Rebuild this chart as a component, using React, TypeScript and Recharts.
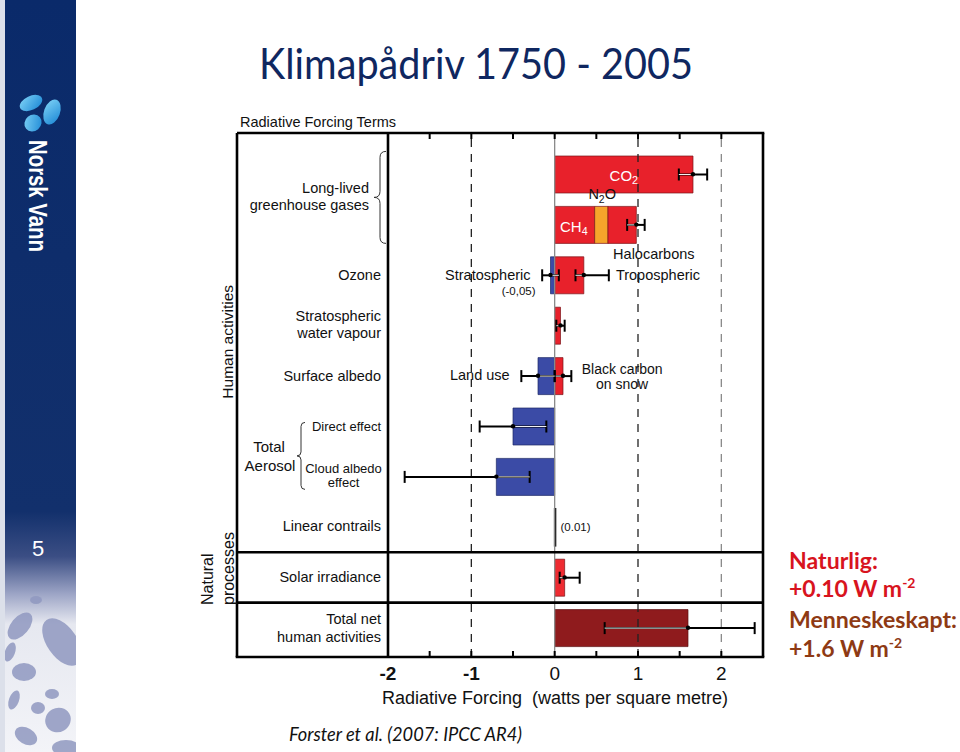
import React from 'react';
import {
  ComposedChart,
  Bar,
  Line,
  XAxis,
  YAxis,
  ReferenceLine,
  ReferenceDot,
  ErrorBar,
  Cell,
} from 'recharts';

// ---------------- data ----------------
const rowNames = [
  'CO2',
  'CH4 N2O Halocarbons',
  'Ozone',
  'Stratospheric water vapour',
  'Surface albedo',
  'Direct effect',
  'Cloud albedo effect',
  'Linear contrails',
  'Solar irradiance',
  'Total net human activities',
];
const redValues = [1.66, 0.48, 0.35, 0.07, 0.1, 0, 0, 0.01, 0.12, 0];
const n2oValues = [0, 0.16, 0, 0, 0, 0, 0, 0, 0, 0];
const haloValues = [0, 0.34, 0, 0, 0, 0, 0, 0, 0, 0];
const blueValues = [0, 0, -0.05, 0, -0.2, -0.5, -0.7, 0, 0, 0];
const netValues = [0, 0, 0, 0, 0, 0, 0, 0, 0, 1.6];

type Range = [number, number] | null;
const redErr: Range[] = [[1.49, 1.83], null, [0.25, 0.65], [0.02, 0.12], [0.0, 0.2], null, null, null, [0.06, 0.3], null];
const haloErr: Range[] = [null, [0.87, 1.08], null, null, null, null, null, null, null, null];
const blueErr: Range[] = [null, null, [-0.15, 0.05], null, [-0.4, 0.0], [-0.9, -0.1], [-1.8, -0.3], null, null, null];
const netErr: Range[] = [null, null, null, null, null, null, null, null, null, [0.6, 2.4]];

const xTicks = [-2, -1.5, -1, -0.5, 0, 0.5, 1, 1.5, 2, 2.5];

const rowLabels: string[][] = [
  ['Long-lived', 'greenhouse gases'],
  [],
  ['Ozone'],
  ['Stratospheric', 'water vapour'],
  ['Surface albedo'],
  ['Direct effect'],
  ['Cloud albedo', 'effect'],
  ['Linear contrails'],
  ['Solar irradiance'],
  ['Total net', 'human activities'],
];

const annotations = [
  { row: 0, x: 0.83, text: 'CO_2', fill: '#fff' },
  { row: 1, x: 0.57, text: 'N_2O', fill: '#111' },
  { row: 1, x: 0.23, text: 'CH_4', fill: '#fff' },
  { row: 1, x: 1.19, text: 'Halocarbons', fill: '#111' },
  { row: 2, x: -0.29, text: 'Stratospheric', fill: '#111' },
  { row: 2, x: -0.23, text: '(-0,05)', fill: '#111' },
  { row: 2, x: 0.735, text: 'Tropospheric', fill: '#111' },
  { row: 4, x: -0.54, text: 'Land use', fill: '#111' },
  { row: 4, x: 0.81, text: 'Black carbon', fill: '#111' },
  { row: 4, x: 0.81, text: 'on snow', fill: '#111' },
  { row: 7, x: 0.07, text: '(0.01)', fill: '#111' },
];

// ---------------- layout / style ----------------
const W = 960;
const H = 752;
const FRAME_LEFT = 237;
const PLOT_LEFT = 388;
const PLOT_RIGHT = 763;
const PLOT_TOP = 133;
const PLOT_BOTTOM = 657;
const PAD_TOP = 16;
const PAD_BOTTOM = 4;
const BAND = (PLOT_BOTTOM - PLOT_TOP - PAD_TOP - PAD_BOTTOM) / rowNames.length;
const rowY = (i: number) => PLOT_TOP + PAD_TOP + BAND * (i + 0.5);
const rowEdge = (i: number) => PLOT_TOP + PAD_TOP + BAND * i;

const FONT = '"Liberation Sans", Arial, Helvetica, sans-serif';
const LABEL_SIZE = 14.5;

const annotationStyle: { anchor: 'start' | 'middle' | 'end'; dy: number; size: number }[] = [
  { anchor: 'middle', dy: 1, size: 15 },
  { anchor: 'middle', dy: -31, size: 14.5 },
  { anchor: 'middle', dy: 1, size: 15 },
  { anchor: 'middle', dy: 29, size: 14.5 },
  { anchor: 'end', dy: 0, size: 14.5 },
  { anchor: 'end', dy: 16, size: 11.5 },
  { anchor: 'start', dy: 0, size: 14.5 },
  { anchor: 'end', dy: -1, size: 14.5 },
  { anchor: 'middle', dy: -6.5, size: 14 },
  { anchor: 'middle', dy: 7.8, size: 14 },
  { anchor: 'start', dy: 0, size: 11.5 },
];

const rowLabelStyle = [
  { dx: -12, dy: BAND / 2 - 3, gap: 17, size: LABEL_SIZE, anchor: 'end' },
  { dx: 0, dy: 0, gap: 0, size: LABEL_SIZE, anchor: 'end' },
  { dx: 0, dy: 0, gap: 0, size: LABEL_SIZE, anchor: 'end' },
  { dx: 0, dy: -1, gap: 17.5, size: LABEL_SIZE, anchor: 'end' },
  { dx: 0, dy: 0, gap: 0, size: LABEL_SIZE, anchor: 'end' },
  { dx: 0, dy: 0, gap: 0, size: 13, anchor: 'end' },
  { dx: -37.5, dy: -1, gap: 14.5, size: 13, anchor: 'middle' },
  { dx: 0, dy: -1, gap: 0, size: LABEL_SIZE, anchor: 'end' },
  { dx: 0, dy: 0, gap: 0, size: LABEL_SIZE, anchor: 'end' },
  { dx: 0, dy: 0, gap: 18, size: LABEL_SIZE, anchor: 'end' },
];

const RED = '#E8212B';
const ORANGE = '#F6A52B';
const BLUE = '#3B4BA6';
const DARKRED = '#8F1B1D';

// ---------------- data table ----------------
const errDelta = (v: number, r: Range) => (r ? [+(v - r[0]).toFixed(3), +(r[1] - v).toFixed(3)] : undefined);

const data = rowNames.map((name, i) => {
  const rowMin = blueValues[i];
  const rowMax = redValues[i] + n2oValues[i] + haloValues[i] + netValues[i];
  const inner = (v: number, r: Range) => {
    if (!r) return undefined;
    const lo = Math.max(r[0], rowMin);
    const hi = Math.min(r[1], rowMax);
    if (hi <= lo) return undefined;
    return [+(v - lo).toFixed(3), +(hi - v).toFixed(3)];
  };
  const haloTop = redValues[i] + n2oValues[i] + haloValues[i];
  let dotPos: number | null = null;
  if (redErr[i]) dotPos = redValues[i];
  else if (haloErr[i]) dotPos = haloTop;
  else if (netErr[i]) dotPos = netValues[i];
  return {
    name,
    red: redValues[i],
    n2o: n2oValues[i],
    halo: haloValues[i],
    blue: blueValues[i],
    net: netValues[i],
    redErr: errDelta(redValues[i], redErr[i]),
    redIn: inner(redValues[i], redErr[i]),
    haloErr: errDelta(haloTop, haloErr[i]),
    haloIn: inner(haloTop, haloErr[i]),
    blueErr: errDelta(blueValues[i], blueErr[i]),
    blueIn: inner(blueValues[i], blueErr[i]),
    netErr: errDelta(netValues[i], netErr[i]),
    netIn: inner(netValues[i], netErr[i]),
    dotPos,
    dotNeg: blueErr[i] ? blueValues[i] : null,
  };
});

// ---------------- helpers ----------------
const renderRich = (text: string, size: number) => {
  const parts = text.split(/_(\d)/);
  const out: React.ReactNode[] = [];
  let shifted = false;
  parts.forEach((p, k) => {
    if (p === '') return;
    if (k % 2 === 1) {
      out.push(
        <tspan key={k} dy={5} fontSize={size * 0.72}>
          {p}
        </tspan>
      );
      shifted = true;
    } else {
      out.push(
        <tspan key={k} dy={shifted ? -5 : 0}>
          {p}
        </tspan>
      );
      shifted = false;
    }
  });
  return out;
};

const RowTick = (props: any) => {
  const { x, y, payload } = props;
  const i = rowNames.indexOf(payload.value);
  if (i < 0) return null;
  const lines = rowLabels[i];
  const st = rowLabelStyle[i];
  return (
    <g>
      {lines.map((l, k) => (
        <text
          key={k}
          x={x + st.dx}
          y={y + st.dy + k * st.gap - ((lines.length - 1) * st.gap) / 2}
          textAnchor={st.anchor as any}
          dominantBaseline="central"
          fontSize={st.size}
          fontFamily={FONT}
          fill="#111"
        >
          {l}
        </text>
      ))}
    </g>
  );
};

const BottomTick = (props: any) => {
  const { x, y, payload } = props;
  const v = payload.value as number;
  const inner = v > -2 && v < 2.5;
  return (
    <g>
      {inner && <line x1={x} x2={x} y1={y} y2={y - 6} stroke="#000" strokeWidth={2} />}
      {Number.isInteger(v) && (
        <text
          x={x}
          y={y + 23}
          textAnchor="middle"
          fontSize={19}
          fontWeight={v < 0 ? 'bold' : 'normal'}
          fontFamily={FONT}
          fill="#111"
        >
          {String(v)}
        </text>
      )}
    </g>
  );
};

const TopTick = (props: any) => {
  const { x, y, payload } = props;
  const v = payload.value as number;
  if (!(v > -2 && v < 2.5)) return null;
  return <line x1={x} x2={x} y1={y} y2={y + 6} stroke="#000" strokeWidth={2} />;
};

const brace = (x0: number, x1: number, yt: number, yb: number) => {
  const ym = (yt + yb) / 2;
  const q = (x1 - x0) / 2;
  const xm = x0 + q;
  return `M ${x1} ${yt} Q ${xm} ${yt} ${xm} ${yt + q} L ${xm} ${ym - q} Q ${xm} ${ym} ${x0} ${ym} Q ${xm} ${ym} ${xm} ${ym + q} L ${xm} ${yb - q} Q ${xm} ${yb} ${x1} ${yb}`;
};

const drops = [
  [20, 626, 9, 16, 40],
  [62, 642, 15, 27, -35],
  [10, 652, 5, 10, 20],
  [24, 672, 12, 9, 0],
  [52, 694, 7, 5, 0],
  [14, 700, 5, 10, 20],
  [38, 708, 7, 6, 0],
  [58, 720, 13, 12, -30],
  [26, 736, 12, 8, 30],
  [66, 748, 14, 8, 0],
  [36, 600, 6, 4, 0],
];

export default function App() {
  const frame = '#000';
  return (
    <div style={{ position: 'absolute', left: 0, top: 0, width: W, height: H, background: '#fff', overflow: 'hidden' }}>
      {/* background decorations */}
      <svg width={W} height={H} style={{ position: 'absolute', left: 0, top: 0 }}>
        <defs>
          <linearGradient id="band" x1="0" y1="0" x2="0" y2="1">
            <stop offset="0" stopColor="#0A2A6A" />
            <stop offset="0.68" stopColor="#12306C" />
            <stop offset="0.74" stopColor="#3B4E84" />
            <stop offset="0.79" stopColor="#9DA5C6" />
            <stop offset="0.83" stopColor="#E6E8F0" />
            <stop offset="1" stopColor="#F3F4F8" />
          </linearGradient>
          <linearGradient id="drop" x1="0" y1="0" x2="1" y2="1">
            <stop offset="0" stopColor="#7FD3F7" />
            <stop offset="1" stopColor="#1A86D4" />
          </linearGradient>
          <clipPath id="bandClip">
            <rect x={5} y={0} width={71} height={H} />
          </clipPath>
        </defs>
        <rect x={0} y={0} width={5} height={H} fill="#DCE0EA" />
        <rect x={5} y={0} width={71} height={H} fill="url(#band)" />
        <g clipPath="url(#bandClip)">
          {drops.map((d, k) => (
            <ellipse
              key={k}
              cx={d[0]}
              cy={d[1]}
              rx={d[2]}
              ry={d[3]}
              fill="#8F98C0"
              opacity={0.85}
              transform={`rotate(${d[4]} ${d[0]} ${d[1]})`}
            />
          ))}
        </g>
        {/* logo */}
        <ellipse cx={31} cy={103} rx={12} ry={7} fill="url(#drop)" transform="rotate(-25 31 103)" />
        <ellipse cx={52} cy={112} rx={8} ry={13} fill="url(#drop)" transform="rotate(20 52 112)" />
        <ellipse cx={33} cy={123} rx={9} ry={8} fill="url(#drop)" transform="rotate(-40 33 123)" />
        <text
          x={38}
          y={196}
          transform="rotate(90 38 196)"
          textAnchor="middle"
          dominantBaseline="central"
          fontFamily={FONT}
          fontWeight="bold"
          fontSize={25}
          fill="#fff"
          textLength={112}
          lengthAdjust="spacingAndGlyphs"
        >
          Norsk Vann
        </text>
        <text x={38} y={556} textAnchor="middle" fontFamily={FONT} fontSize={22} fill="#fff">
          5
        </text>
        {/* title */}
        <text
          x={259}
          y={79}
          fontFamily="Lato, 'Open Sans', sans-serif"
          fontSize={42}
          fill="#0F2760"
          textLength={434}
          lengthAdjust="spacingAndGlyphs"
        >
          Klimapådriv 1750 - 2005
        </text>
        <text x={240} y={127} fontFamily={FONT} fontSize={14.5} fill="#111">
          Radiative Forcing Terms
        </text>
        {/* right annotations */}
        <text x={789} y={569} fontFamily="Lato, sans-serif" fontWeight="bold" fontSize={23} fill="#D8141E" textLength={89} lengthAdjust="spacingAndGlyphs">
          Naturlig:
        </text>
        <text x={789} y={597} fontFamily="Lato, sans-serif" fontWeight="bold" fontSize={23} fill="#D8141E">
          +0.10 W m
          <tspan dy={-9} fontSize={14}>
            -2
          </tspan>
        </text>
        <text x={789} y={628} fontFamily="Lato, sans-serif" fontWeight="bold" fontSize={23} fill="#8E3A14" textLength={168} lengthAdjust="spacingAndGlyphs">
          Menneskeskapt:
        </text>
        <text x={789} y={657} fontFamily="Lato, sans-serif" fontWeight="bold" fontSize={23} fill="#8E3A14">
          +1.6 W m
          <tspan dy={-9} fontSize={14}>
            -2
          </tspan>
        </text>
        {/* footer */}
        <text
          x={289}
          y={741}
          fontFamily="Lato, sans-serif"
          fontStyle="italic"
          fontSize={19}
          fill="#111"
          textLength={233}
          lengthAdjust="spacingAndGlyphs"
        >
          Forster et al. (2007: IPCC AR4)
        </text>
      </svg>

      {/* chart */}
      <div style={{ position: 'absolute', left: 0, top: 0 }}>
        <ComposedChart
          width={W}
          height={H}
          data={data}
          layout="vertical"
          stackOffset="sign"
          margin={{ top: PLOT_TOP - 10, right: W - PLOT_RIGHT, bottom: H - PLOT_BOTTOM - 30, left: FRAME_LEFT }}
        >
          <XAxis
            type="number"
            domain={[-2, 2.5]}
            allowDataOverflow
            ticks={xTicks}
            interval={0}
            height={30}
            axisLine={false}
            tickLine={false}
            tickSize={0}
            tickMargin={0}
            tick={(p: any) => <BottomTick {...p} />}
          />
          <XAxis
            xAxisId="top"
            orientation="top"
            type="number"
            domain={[-2, 2.5]}
            allowDataOverflow
            ticks={xTicks}
            interval={0}
            height={10}
            axisLine={false}
            tickLine={false}
            tickSize={0}
            tickMargin={0}
            tick={(p: any) => <TopTick {...p} />}
          />
          <YAxis
            type="category"
            dataKey="name"
            width={PLOT_LEFT - FRAME_LEFT}
            interval={0}
            axisLine={false}
            tickLine={false}
            tickSize={0}
            tickMargin={7}
            padding={{ top: PAD_TOP, bottom: PAD_BOTTOM }}
            tick={(p: any) => <RowTick {...p} />}
          />
          <ReferenceLine x={-1} stroke="#222" strokeWidth={1.3} strokeDasharray="8 7" />
          <ReferenceLine x={1} stroke="#222" strokeWidth={1.3} strokeDasharray="8 7" />
          <ReferenceLine x={2} stroke="#8a8a8a" strokeWidth={1.3} strokeDasharray="8 7" />
          <ReferenceLine x={0} stroke="#8a8a8a" strokeWidth={1.3} />

          <Bar dataKey="red" stackId="a" barSize={37} fill={RED} stroke="#7A1418" strokeWidth={0.7} isAnimationActive={false}>
            {data.map((d, k) => (
              <Cell
                key={k}
                fill={d.name === 'Solar irradiance' ? '#EE2B31' : RED}
                stroke={d.name === 'Linear contrails' ? '#000' : '#7A1418'}
                strokeWidth={d.name === 'Linear contrails' ? 1.6 : 0.7}
              />
            ))}
            <ErrorBar dataKey="redErr" direction="x" width={6} stroke="#000" strokeWidth={2} />
            <ErrorBar dataKey="redIn" direction="x" width={0} stroke="#f2f2f2" strokeWidth={1} />
          </Bar>
          <Bar dataKey="n2o" stackId="a" barSize={37} fill={ORANGE} stroke="#7A1418" strokeWidth={0.7} isAnimationActive={false} />
          <Bar dataKey="halo" stackId="a" barSize={37} fill={RED} stroke="#7A1418" strokeWidth={0.7} isAnimationActive={false}>
            <ErrorBar dataKey="haloErr" direction="x" width={6} stroke="#000" strokeWidth={2} />
            <ErrorBar dataKey="haloIn" direction="x" width={0} stroke="#f2f2f2" strokeWidth={1} />
          </Bar>
          <Bar dataKey="blue" stackId="a" barSize={37} fill={BLUE} stroke="#1E2A66" strokeWidth={0.7} isAnimationActive={false}>
            <ErrorBar dataKey="blueErr" direction="x" width={6} stroke="#000" strokeWidth={2} />
            <ErrorBar dataKey="blueIn" direction="x" width={0} stroke="#f2f2f2" strokeWidth={1} />
          </Bar>
          <Bar dataKey="net" stackId="a" barSize={37} fill={DARKRED} stroke="#5A0E10" strokeWidth={0.7} isAnimationActive={false}>
            <ErrorBar dataKey="netErr" direction="x" width={6} stroke="#000" strokeWidth={2} />
            <ErrorBar dataKey="netIn" direction="x" width={0} stroke="#f2f2f2" strokeWidth={1} />
          </Bar>
          <Line dataKey="dotPos" stroke="none" isAnimationActive={false} activeDot={false} dot={{ r: 2.2, fill: '#000', stroke: 'none' }} />
          <Line dataKey="dotNeg" stroke="none" isAnimationActive={false} activeDot={false} dot={{ r: 2.2, fill: '#000', stroke: 'none' }} />

          {annotations.map((a, k) => {
            const st = annotationStyle[k];
            return (
              <ReferenceDot
                key={k}
                x={a.x}
                y={rowNames[a.row]}
                r={1}
                ifOverflow="visible"
                shape={(p: any) => (
                  <text
                    x={p.cx}
                    y={p.cy + st.dy}
                    textAnchor={st.anchor}
                    dominantBaseline="central"
                    fontSize={st.size}
                    fontFamily={FONT}
                    fill={a.fill}
                  >
                    {renderRich(a.text, st.size)}
                  </text>
                )}
              />
            );
          })}
        </ComposedChart>
      </div>

      {/* frame and outer labels */}
      <svg width={W} height={H} style={{ position: 'absolute', left: 0, top: 0, pointerEvents: 'none' }}>
        <g stroke={frame} strokeWidth={2.6} fill="none">
          <line x1={FRAME_LEFT} x2={PLOT_RIGHT + 1.3} y1={PLOT_TOP} y2={PLOT_TOP} />
          <line x1={FRAME_LEFT - 1.3} x2={PLOT_RIGHT + 1.3} y1={PLOT_BOTTOM} y2={PLOT_BOTTOM} />
          <line x1={FRAME_LEFT} x2={FRAME_LEFT} y1={PLOT_TOP} y2={PLOT_BOTTOM} />
          <line x1={PLOT_LEFT} x2={PLOT_LEFT} y1={PLOT_TOP} y2={PLOT_BOTTOM} />
          <line x1={PLOT_RIGHT} x2={PLOT_RIGHT} y1={PLOT_TOP} y2={PLOT_BOTTOM} />
          <line x1={FRAME_LEFT} x2={PLOT_RIGHT} y1={rowEdge(8)} y2={rowEdge(8)} />
          <line x1={FRAME_LEFT} x2={PLOT_RIGHT} y1={rowEdge(9)} y2={rowEdge(9)} />
        </g>
        <path
          d={brace(374, 386, (rowY(0) + rowY(1)) / 2 - 48, (rowY(0) + rowY(1)) / 2 + 44)}
          stroke="#333"
          strokeWidth={1}
          fill="none"
        />
        <path d={brace(297, 305, rowEdge(6) - 29, rowEdge(6) + 38)} stroke="#333" strokeWidth={1} fill="none" />
        <text x={269} y={rowEdge(6) - 5} textAnchor="middle" dominantBaseline="central" fontFamily={FONT} fontSize={15} fill="#111">
          Total
        </text>
        <text x={270} y={rowEdge(6) + 14} textAnchor="middle" dominantBaseline="central" fontFamily={FONT} fontSize={15} fill="#111">
          Aerosol
        </text>
        <text
          x={228}
          y={(rowY(2) + rowY(6)) / 2 - 34}
          transform={`rotate(-90 228 ${(rowY(2) + rowY(6)) / 2 - 34})`}
          textAnchor="middle"
          dominantBaseline="central"
          fontFamily={FONT}
          fontSize={15.5}
          fill="#111"
        >
          Human activities
        </text>
        <text x={207} y={605} transform="rotate(-90 207 605)" dominantBaseline="central" fontFamily={FONT} fontSize={16} fill="#111">
          Natural
        </text>
        <text x={228} y={605} transform="rotate(-90 228 605)" dominantBaseline="central" fontFamily={FONT} fontSize={16} fill="#111">
          processes
        </text>
        <text x={555} y={698} textAnchor="middle" dominantBaseline="central" fontFamily={FONT} fontSize={18} fill="#111" style={{ whiteSpace: 'pre' }}>
          {'Radiative Forcing  (watts per square metre)'}
        </text>
      </svg>
    </div>
  );
}
